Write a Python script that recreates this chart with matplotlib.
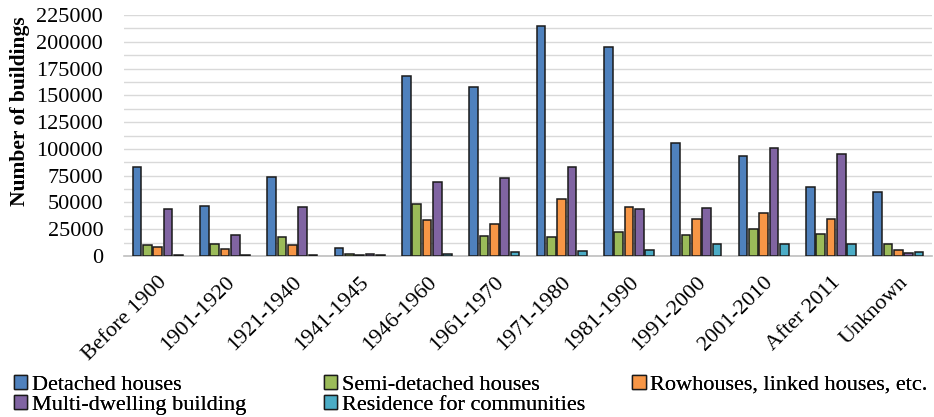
import matplotlib
matplotlib.use("Agg")
import matplotlib.pyplot as plt
import numpy as np
from matplotlib.patches import Patch

plt.rcParams['font.family'] = ['Liberation Serif', 'DejaVu Serif']

periods = ["Before 1900", "1901-1920", "1921-1940", "1941-1945", "1946-1960",
           "1961-1970", "1971-1980", "1981-1990", "1991-2000", "2001-2010",
           "After 2011", "Unknown"]

series_names = ["Detached houses", "Semi-detached houses",
                "Rowhouses, linked houses, etc.", "Multi-dwelling building",
                "Residence for communities"]

detached = [83000, 47000, 74000, 7200, 168500, 158000, 214500, 195000, 105500, 93500, 64000, 59500]
semi = [10000, 11000, 18000, 1500, 49000, 18500, 18000, 22500, 19500, 25000, 21000, 11500]
rowhouses = [8000, 6500, 10500, 1000, 33500, 29500, 53000, 46000, 34500, 40000, 34500, 5500]
multi = [44000, 20000, 46000, 2000, 69500, 73000, 83000, 43500, 44500, 101000, 95000, 3000]
communities = [800, 600, 600, 900, 1500, 3700, 4700, 5600, 11500, 11500, 11500, 4000]

colors = ["#4F81BD", "#9BBB59", "#F79646", "#8064A2", "#4BACC6"]

fig = plt.figure(figsize=(9.34, 4.17), dpi=100)
ax = fig.add_axes([0.1328, 0.386, 0.865, 0.578])

x = np.arange(len(periods))
pitch = 0.153
width = 0.13
all_series = [detached, semi, rowhouses, multi, communities]
for i, (vals, col) in enumerate(zip(all_series, colors)):
    ax.bar(x + (i - 2) * pitch, vals, width, color=col,
           edgecolor="#1a1a1a", linewidth=1.1, zorder=3)

ax.set_xlim(-0.5, len(periods) - 0.5)
ax.set_ylim(0, 225000)
ax.set_yticks(np.arange(0, 225001, 25000))
ax.set_yticks(np.arange(12500, 225000, 25000), minor=True)
ax.grid(axis="y", which="both", color="#d9d9d9", linewidth=1.0, zorder=0)
ax.tick_params(axis="y", which="both", length=0, pad=15, labelsize=16)
ax.tick_params(axis="x", length=0, pad=12)
ax.set_xticks(x)
ax.set_xticklabels(periods, rotation=45, ha="right", rotation_mode="anchor",
                   fontsize=16)

for s in ["top", "right", "left"]:
    ax.spines[s].set_visible(False)
ax.spines["bottom"].set_color("#bfbfbf")
ax.spines["bottom"].set_linewidth(1.2)

ax.set_ylabel("Number of buildings", fontsize=15.5, fontweight="bold")
ax.yaxis.set_label_coords(-0.117, 0.6)

# legend laid out as three columns placed side by side
columns = [[0, 3], [1, 4], [2]]
col_x = [0.015, 0.347, 0.677]
for idx, cx in zip(columns, col_x):
    handles = [Patch(facecolor=colors[k], edgecolor="#1a1a1a", linewidth=1.0) for k in idx]
    labels = [series_names[k] for k in idx]
    leg = fig.legend(handles, labels, loc="upper left", bbox_to_anchor=(cx, 0.101),
                     frameon=False, fontsize=16, handlelength=0.6, handleheight=0.6,
                     handletextpad=0.2, labelspacing=0.0, borderpad=0.0,
                     borderaxespad=0.0)
    fig.add_artist(leg)

fig.savefig("out.png", dpi=100)
